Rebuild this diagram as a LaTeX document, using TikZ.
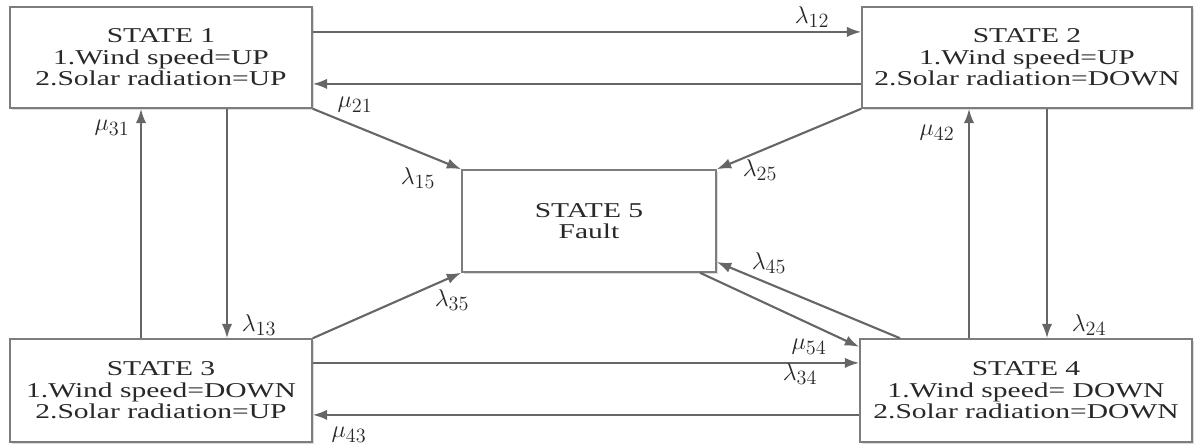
\documentclass[tikz,border=0pt]{standalone}
\usepackage{fontspec}
\setmainfont{Liberation Serif}[FakeStretch=1.4]
\usepackage{tikz}
\usetikzlibrary{arrows.meta,shadows}
\DeclareMathSizes{17.28}{17.28}{14.4}{12}
\definecolor{lineGray}{RGB}{102,102,102}
\definecolor{boxGray}{RGB}{125,125,125}
\definecolor{shadeGray}{RGB}{220,220,220}
\definecolor{textGray}{RGB}{40,40,40}

\begin{document}
\begin{tikzpicture}[x=0.25mm, y=-0.25mm,
  state/.style={draw=boxGray, line width=1.1pt, fill=white, inner sep=0pt, align=center,
    text=textGray, font=\fontsize{15}{15.3}\selectfont,
    drop shadow={shadow xshift=0.6mm, shadow yshift=-0.6mm, fill=shadeGray, opacity=1}},
  rate/.style={text=textGray, font=\fontsize{17.28}{19}\selectfont},
  flow/.style={draw=lineGray, line width=1.5pt, -{Latex[length=3.6mm,width=2.6mm]}}]
\useasboundingbox (0,0) rectangle (1200,447);
\node[state, minimum width=75.5mm, minimum height=25.25mm] (s1) at (161,57.5)
  {STATE 1\\1.Wind speed=UP\\2.Solar radiation=UP};
\node[state, minimum width=82.5mm, minimum height=25.25mm] (s2) at (1027,57.5)
  {STATE 2\\1.Wind speed=UP\\2.Solar radiation=DOWN};
\node[state, minimum width=75.5mm, minimum height=25.75mm] (s3) at (161,390.5)
  {STATE 3\\1.Wind speed=DOWN\\2.Solar radiation=UP};
\node[state, minimum width=83mm, minimum height=25.75mm] (s4) at (1026,390.5)
  {STATE 4\\1.Wind speed= DOWN\\2.Solar radiation=DOWN};
\node[state, minimum width=63.5mm, minimum height=25.5mm] (s5) at (589,221)
  {STATE 5\\Fault};
\draw[flow] ([yshift=6.4mm]s1.east) -- ([yshift=6.4mm]s1.east -| s2.west);
\draw[flow] ([yshift=-6.6mm]s2.west) -- ([yshift=-6.6mm]s2.west -| s1.east);
\draw[flow] (s1.south east) -- (s5.north west);
\draw[flow] (s2.south west) -- (s5.north east);
\draw[flow] ([xshift=-5mm]s1.south |- s3.north) -- ([xshift=-5mm]s1.south);
\draw[flow] ([xshift=16.5mm]s1.south) -- ([xshift=16.5mm]s1.south |- s3.north);
\draw[flow] (s3.north east) -- (s5.south west);
\draw[flow] ([yshift=6.9mm]s3.east) -- ([yshift=6.9mm]s3.east -| s4.west);
\draw[flow] ([yshift=-6.1mm]s4.west) -- ([yshift=-6.1mm]s4.west -| s3.east);
\draw[flow] ([xshift=27.75mm]s5.south) -- ([yshift=10.9mm]s4.west);
\draw[flow] ([xshift=-31.5mm]s4.north) -- ([yshift=-10.25mm]s5.east);
\draw[flow] ([xshift=-14.25mm]s4.north) -- ([xshift=-14.25mm]s4.north |- s2.south);
\draw[flow] ([xshift=5mm]s2.south) -- ([xshift=5mm]s2.south |- s4.north);
\foreach \x/\y/\nm/\lbl in {812/17/l12/$\lambda_{12}$, 355/105/m21/$\mu_{21}$,
    418/178/l15/$\lambda_{15}$, 760/170/l25/$\lambda_{25}$, 112/128/m31/$\mu_{31}$,
    937/133/m42/$\mu_{42}$, 259/325/l13/$\lambda_{13}$, 1089/325/l24/$\lambda_{24}$,
    452/300/l35/$\lambda_{35}$, 769/263/l45/$\lambda_{45}$, 809/347/m54/$\mu_{54}$,
    800/374/l34/$\lambda_{34}$, 349/435/m43/$\mu_{43}$}{
\node[rate] (\nm) at (\x,\y) {\lbl};
}
\end{tikzpicture}
\end{document}
